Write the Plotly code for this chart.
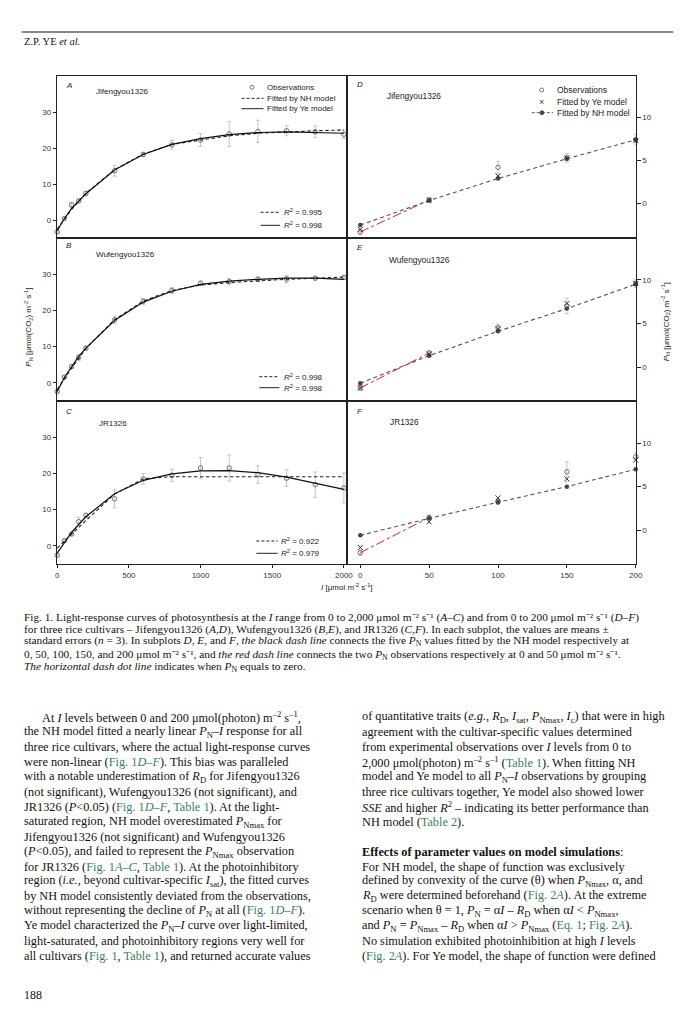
import plotly.graph_objects as go

W, H = 698, 1026

# ---------------- data ----------------
I_levels = [0, 50, 100, 150, 200, 400, 600, 800, 1000, 1200, 1400, 1600, 1800, 2000]
cultivars = ["Jifengyou1326", "Wufengyou1326", "JR1326"]
left_labels = ["A", "B", "C"]
right_labels = ["D", "E", "F"]

obs_jif = [-3.3, 0.4, 4.2, 5.3, 7.4, 13.7, 18.2, 20.9, 22.2, 23.9, 24.6, 24.8, 24.5, 23.8]
err_jif = [0.3, 0.3, 0.7, 0.5, 0.6, 1.5, 0.6, 1.2, 1.8, 3.5, 3.1, 1.4, 1.6, 1.2]
ye_jif = [-3.0, 0.4, 3.2, 5.3, 7.3, 13.9, 18.2, 21.0, 22.6, 23.7, 24.3, 24.5, 24.4, 24.1]
nh_jif = [-2.5, 0.35, 2.9, 5.2, 7.4, 14.0, 18.3, 21.0, 22.3, 23.4, 24.1, 24.5, 24.8, 25.0]

obs_wuf = [-2.4, 1.6, 4.5, 7.0, 9.6, 17.4, 22.5, 25.5, 27.5, 28.0, 28.6, 28.7, 28.9, 29.1]
err_wuf = [0.3, 0.3, 0.4, 0.9, 0.5, 1.0, 0.8, 0.8, 0.6, 0.9, 0.6, 1.0, 0.5, 0.4]
ye_wuf = [-2.4, 1.5, 4.4, 7.3, 9.6, 17.2, 22.3, 25.3, 27.2, 28.1, 28.6, 28.9, 28.9, 28.6]
nh_wuf = [-1.85, 1.3, 4.1, 6.7, 9.5, 17.5, 22.6, 25.5, 27.0, 27.7, 28.2, 28.6, 28.9, 29.2]

obs_jr = [-2.6, 1.45, 3.25, 6.7, 8.45, 13.0, 18.5, 19.5, 21.5, 21.5, 19.7, 18.7, 16.9, 16.0]
err_jr = [0.3, 0.3, 0.3, 1.15, 0.5, 2.5, 1.5, 1.7, 2.9, 3.6, 2.4, 2.3, 3.5, 4.1]
ye_jr = [-2.0, 0.95, 3.7, 5.9, 8.05, 14.4, 18.1, 19.9, 20.7, 20.8, 20.2, 19.0, 17.4, 15.6]
nh_jr = [-0.6, 1.35, 3.2, 5.0, 7.0, 14.3, 18.5, 19.1, 19.1, 19.1, 19.1, 19.1, 19.1, 19.1]

r2_nh = ["0.995", "0.998", "0.922"]
r2_ye = ["0.998", "0.998", "0.979"]

left_xticks = [0, 500, 1000, 1500, 2000]
left_yticks = [0, 10, 20, 30]
right_xticks = [0, 50, 100, 150, 200]
right_yticks = [0, 5, 10]
n_low = 5  # I levels 0..200 used in D-F

obs_all = [obs_jif, obs_wuf, obs_jr]
err_all = [err_jif, err_wuf, err_jr]
ye_all = [ye_jif, ye_wuf, ye_jr]
nh_all = [nh_jif, nh_wuf, nh_jr]

# ---------------- layout helpers ----------------
def px(x):
    return x / W

def py(y):
    return 1 - y / H

rows = [(76, 238), (238, 401), (401, 564)]
left_x = (55.5, 350)
right_x = (350, 642)
left_xrange = [-3, 2025]
right_xrange = [-9.3, 200]
left_yrange = [-5, 40]
right_yranges = [[-4.0, 14.8], [-3.9, 14.8], [-3.9, 14.85]]

AX = "Liberation Sans"
SERIF = "Liberation Serif"
tickfont = dict(family=AX, size=8, color="#333")
axline = dict(showline=True, mirror=True, linecolor="#222", linewidth=1,
              showgrid=False, zeroline=False)

fig = go.Figure()
layout = {}

for i in range(3):
    top, bot = rows[i]
    kl = i + 1
    kr = i + 4
    sl = "" if kl == 1 else str(kl)
    sr = str(kr)
    bottom = (i == 2)
    layout["xaxis" + sl] = dict(domain=[px(left_x[0]), px(left_x[1])], range=left_xrange,
                                anchor="y" + sl, tickvals=left_xticks if bottom else [],
                                ticks="outside" if bottom else "", ticklen=3, tickcolor="#222",
                                showticklabels=bottom, tickfont=tickfont, **axline)
    layout["yaxis" + sl] = dict(domain=[py(bot), py(top)], range=left_yrange, anchor="x" + sl,
                                tickvals=left_yticks, ticks="outside", ticklen=3, tickcolor="#222",
                                tickfont=tickfont, **axline)
    layout["xaxis" + sr] = dict(domain=[px(right_x[0]), px(right_x[1])], range=right_xrange,
                                anchor="y" + sr, tickvals=right_xticks if bottom else [],
                                ticks="outside" if bottom else "", ticklen=3, tickcolor="#222",
                                showticklabels=bottom, tickfont=tickfont, **axline)
    layout["yaxis" + sr] = dict(domain=[py(bot), py(top)], range=right_yranges[i], anchor="x" + sr,
                                side="right", tickvals=right_yticks, ticks="outside", ticklen=4,
                                tickcolor="#222", tickfont=tickfont, **axline)

    xl, yl = "x" + sl, "y" + sl
    xr, yr = "x" + sr, "y" + sr
    obs, err, ye, nh = obs_all[i], err_all[i], ye_all[i], nh_all[i]

    # ----- left panel (0 - 2000) -----
    fig.add_trace(go.Scatter(x=I_levels, y=obs, mode="markers", xaxis=xl, yaxis=yl,
                             marker=dict(symbol="circle-open", size=4.5, color="#555",
                                         line=dict(width=0.8)),
                             error_y=dict(type="data", array=err, color="#b8b8b8",
                                          thickness=0.8, width=2),
                             cliponaxis=False, name="Observations"))
    fig.add_trace(go.Scatter(x=I_levels, y=nh, mode="lines", xaxis=xl, yaxis=yl,
                             line=dict(color="#222", width=1.1, dash="3.5px,2.5px"),
                             name="Fitted by NH model"))
    fig.add_trace(go.Scatter(x=I_levels, y=ye, mode="lines", xaxis=xl, yaxis=yl,
                             line=dict(color="#111", width=1.2), name="Fitted by Ye model"))

    # ----- right panel (0 - 200) -----
    fig.add_trace(go.Scatter(x=I_levels[:n_low], y=obs[:n_low], mode="markers", xaxis=xr, yaxis=yr,
                             marker=dict(symbol="circle-open", size=4.5, color="#555",
                                         line=dict(width=0.8)),
                             error_y=dict(type="data", array=err[:n_low], color="#b8b8b8",
                                          thickness=0.8, width=2),
                             cliponaxis=False, name="Observations"))
    fig.add_trace(go.Scatter(x=I_levels[:2], y=obs[:2], mode="lines", xaxis=xr, yaxis=yr,
                             line=dict(color="#e8211d", width=1, dash="dashdot"),
                             name="observations 0-50"))
    fig.add_trace(go.Scatter(x=I_levels[:n_low], y=nh[:n_low], mode="lines+markers", xaxis=xr, yaxis=yr,
                             line=dict(color="#555", width=1.1, dash="4px,3px"),
                             marker=dict(symbol="circle", size=4.5, color="#444"),
                             cliponaxis=False, name="Fitted by NH model"))
    fig.add_trace(go.Scatter(x=I_levels[:n_low], y=ye[:n_low], mode="markers", xaxis=xr, yaxis=yr,
                             marker=dict(symbol="x-thin", size=5, color="#333",
                                         line=dict(width=1, color="#333")),
                             cliponaxis=False, name="Fitted by Ye model"))

annotations = []
shapes = []

def txt(x, y, s, size=8, family=AX, xanchor="left", color="#222", angle=0, yanchor="middle"):
    annotations.append(dict(x=px(x), y=py(y), xref="paper", yref="paper", text=s,
                            showarrow=False, xanchor=xanchor, yanchor=yanchor,
                            textangle=angle, font=dict(family=family, size=size, color=color)))

def hline(x0, x1, y, dash=None, color="#222", width=1):
    ln = dict(color=color, width=width)
    if dash:
        ln["dash"] = dash
    shapes.append(dict(type="line", xref="paper", yref="paper", x0=px(x0), x1=px(x1),
                       y0=py(y), y1=py(y), line=ln))

def dot(x, y, r=2, fill="white", color="#555"):
    shapes.append(dict(type="circle", xref="paper", yref="paper", xsizemode="pixel",
                       ysizemode="pixel", xanchor=px(x), yanchor=py(y), x0=-r, x1=r, y0=-r, y1=r,
                       line=dict(color=color, width=0.8), fillcolor=fill))

# panel letters and cultivar names
letter_pos_l = [(62.7, 85), (62.7, 246), (62.7, 411.7)]
letter_pos_r = [(358, 84), (357.5, 247.3), (358, 411.7)]
name_pos_l = [(92.7, 91.7), (92.7, 255), (96.7, 423.3)]
name_pos_r = [(388, 95.7), (390, 260), (390.7, 421.7)]
for i in range(3):
    txt(*letter_pos_l[i], "<i>%s</i>" % left_labels[i], size=8)
    txt(*letter_pos_r[i], "<i>%s</i>" % right_labels[i], size=8)
    txt(*name_pos_l[i], cultivars[i], size=8)
    txt(*name_pos_r[i], cultivars[i], size=8.3)

# legend in A
dot(253.3, 87.3)
txt(266, 87.3, "Observations", size=8)
hline(242.7, 265, 98.3, dash="3px,2px")
txt(266, 98.3, "Fitted by NH model", size=8)
hline(242.7, 265, 108.7)
txt(266, 108.7, "Fitted by Ye model", size=8)

# legend in D
dot(546.7, 90)
txt(560.7, 90, "Observations", size=8.5)
txt(546.7, 101.7, "×", size=9, xanchor="center", color="#333")
txt(560.7, 101.7, "Fitted by Ye model", size=8.5)
hline(536.7, 558.3, 112.7, dash="3px,2px", color="#555")
dot(547, 112.7, r=2, fill="#444", color="#444")
txt(560.7, 112.7, "Fitted by NH model", size=8.5)

# R2 legends
r2_pos = [(262, 281.7, 283.3, 212.3, 225.3), (260.7, 281, 283.3, 376.7, 387.7),
          (257.7, 279.3, 280.5, 541, 553.3)]
for i in range(3):
    x0, x1, xt, y1, y2 = r2_pos[i]
    hline(x0, x1, y1, dash="3px,2px")
    txt(xt, y1, "<i>R</i><sup>2</sup> = " + r2_nh[i], size=8)
    hline(x0, x1, y2)
    txt(xt, y2, "<i>R</i><sup>2</sup> = " + r2_ye[i], size=8)

# axis titles
ytitle = "<i>P</i><sub>N</sub> [μmol(CO<sub>2</sub>) m<sup>-2</sup> s<sup>-1</sup>]"
txt(27, 327, ytitle, size=8, xanchor="center", angle=-90)
txt(672, 322, ytitle, size=8, xanchor="center", angle=-90)
txt(350, 586.7, "<i>I</i> [μmol m<sup>-2</sup> s<sup>-1</sup>]", size=8, xanchor="center")

# ---------------- page text ----------------
hline(20, 680, 32, color="#111", width=1)
txt(20, 41, "Z.P. YE <i>et al.</i>", size=10.5, family=SERIF, color="#111")

def G(s):
    return '<span style="color:#3b7f5c">' + s + '</span>'

U = "μmol m⁻² s⁻¹"
caption = [
    "Fig. 1. Light-response curves of photosynthesis at the <i>I</i> range from 0 to 2,000 " + U + " (<i>A–C</i>) and from 0 to 200 " + U + " (<i>D–F</i>)",
    "for three rice cultivars – Jifengyou1326 (<i>A,D</i>), Wufengyou1326 (<i>B,E</i>), and JR1326 (<i>C,F</i>). In each subplot, the values are means ±",
    "standard errors (<i>n</i> = 3). In subplots <i>D</i>, <i>E</i>, and <i>F</i>, <i>the black dash line</i> connects the five <i>P</i><sub>N</sub> values fitted by the NH model respectively at",
    "0, 50, 100, 150, and 200 " + U + ", and <i>the red dash line</i> connects the two <i>P</i><sub>N</sub> observations respectively at 0 and 50 " + U + ".",
    "<i>The horizontal dash dot line</i> indicates when <i>P</i><sub>N</sub> equals to zero.",
]
caption_y = [617.5, 629.5, 641.2, 654.6, 666.6]
for k, line in enumerate(caption):
    txt(20, caption_y[k], line, size=11.3, family=SERIF, color="#111")

left_col = [
    "At <i>I</i> levels between 0 and 200 μmol(photon) m<sup>–2</sup> s<sup>–1</sup>,",
    "the NH model fitted a nearly linear <i>P</i><sub>N</sub>–<i>I</i> response for all",
    "three rice cultivars, where the actual light-response curves",
    "were non-linear (" + G("Fig. 1<i>D–F</i>") + "). This bias was paralleled",
    "with a notable underestimation of <i>R</i><sub>D</sub> for Jifengyou1326",
    "(not significant), Wufengyou1326 (not significant), and",
    "JR1326 (<i>P</i>&lt;0.05) (" + G("Fig. 1<i>D–F</i>") + ", " + G("Table 1") + "). At the light-",
    "saturated region, NH model overestimated <i>P</i><sub>Nmax</sub> for",
    "Jifengyou1326 (not significant) and Wufengyou1326",
    "(<i>P</i>&lt;0.05), and failed to represent the <i>P</i><sub>Nmax</sub> observation",
    "for JR1326 (" + G("Fig. 1<i>A–C</i>") + ", " + G("Table 1") + "). At the photoinhibitory",
    "region (<i>i.e.</i>, beyond cultivar-specific <i>I</i><sub>sat</sub>), the fitted curves",
    "by NH model consistently deviated from the observations,",
    "without representing the decline of <i>P</i><sub>N</sub> at all (" + G("Fig. 1<i>D–F</i>") + ").",
    "Ye model characterized the <i>P</i><sub>N</sub>–<i>I</i> curve over light-limited,",
    "light-saturated, and photoinhibitory regions very well for",
    "all cultivars (" + G("Fig. 1") + ", " + G("Table 1") + "), and returned accurate values",
]
right_col = [
    "of quantitative traits (<i>e.g.</i>, <i>R</i><sub>D</sub>, <i>I</i><sub>sat</sub>, <i>P</i><sub>Nmax</sub>, <i>I</i><sub>c</sub>) that were in high",
    "agreement with the cultivar-specific values determined",
    "from experimental observations over <i>I</i> levels from 0 to",
    "2,000 μmol(photon) m<sup>–2</sup> s<sup>–1</sup> (" + G("Table 1") + "). When fitting NH",
    "model and Ye model to all <i>P</i><sub>N</sub>–<i>I</i> observations by grouping",
    "three rice cultivars together, Ye model also showed lower",
    "<i>SSE</i> and higher <i>R</i><sup>2</sup> – indicating its better performance than",
    "NH model (" + G("Table 2") + ").",
    "",
    "<b>Effects of parameter values on model simulations</b>:",
    "For NH model, the shape of function was exclusively",
    "defined by convexity of the curve (θ) when <i>P</i><sub>Nmax</sub>, α, and",
    "<i>R</i><sub>D</sub> were determined beforehand (" + G("Fig. 2<i>A</i>") + "). At the extreme",
    "scenario when θ = 1, <i>P</i><sub>N</sub> = α<i>I</i> – <i>R</i><sub>D</sub> when α<i>I</i> &lt; <i>P</i><sub>Nmax</sub>,",
    "and <i>P</i><sub>N</sub> = <i>P</i><sub>Nmax</sub> – <i>R</i><sub>D</sub> when α<i>I</i> &gt; <i>P</i><sub>Nmax</sub> (" + G("Eq. 1") + "; " + G("Fig. 2<i>A</i>") + ").",
    "No simulation exhibited photoinhibition at high <i>I</i> levels",
    "(" + G("Fig. 2<i>A</i>") + "). For Ye model, the shape of function were defined",
]
for k, line in enumerate(left_col):
    txt(38 if k == 0 else 20, 717 + 14.95 * k, line, size=12.3, family=SERIF, color="#111")
for k, line in enumerate(right_col):
    if line:
        txt(363, 717 + 14.95 * k, line, size=12.3, family=SERIF, color="#111")

txt(20, 995, "188", size=12, family=SERIF, color="#111")

fig.update_layout(width=W, height=H, margin=dict(l=0, r=0, t=0, b=0),
                  paper_bgcolor="white", plot_bgcolor="white", showlegend=False,
                  annotations=annotations, shapes=shapes, **layout)

fig.write_html("out.html", config={"displayModeBar": False},
               post_script="document.body.style.margin='0px';")
